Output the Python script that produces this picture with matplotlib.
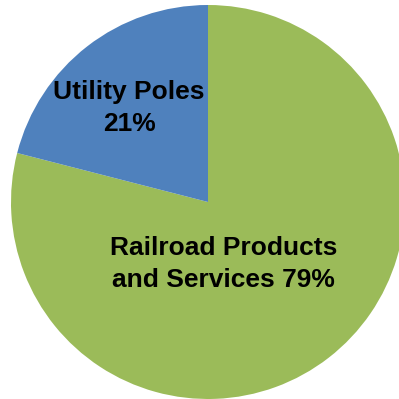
import numpy as np
import matplotlib.pyplot as plt

# Share of business segments
segments = ['Railroad Products\nand Services', 'Utility Poles']
shares = [79, 21]
colors = ['#9BBB59', '#4F81BD']

fig = plt.figure(figsize=(3.99, 3.99), dpi=100)
ax = fig.add_axes([0, 0, 1, 1])

wedges, _ = ax.pie(shares, colors=colors, startangle=90, counterclock=False,
                   radius=1.0, wedgeprops=dict(linewidth=0))

# pie is slightly off-centre and clipped on the right
r_px = 197.0
ax.set_xlim(-208 / r_px, (399 - 208) / r_px)
ax.set_ylim(-(399 - 202) / r_px, 202 / r_px)
ax.set_aspect('equal')
ax.axis('off')

font = dict(family=['Liberation Sans', 'DejaVu Sans'], fontweight='bold',
            fontsize=19, ha='center', va='center', linespacing=1.45)
ax.text(-0.40, 0.477, f'{segments[1]}\n{shares[1]}%', **font)
ax.text(0.078, -0.315, f'Railroad Products\nand Services {shares[0]}%', **font)

fig.savefig('out.png', dpi=100)
